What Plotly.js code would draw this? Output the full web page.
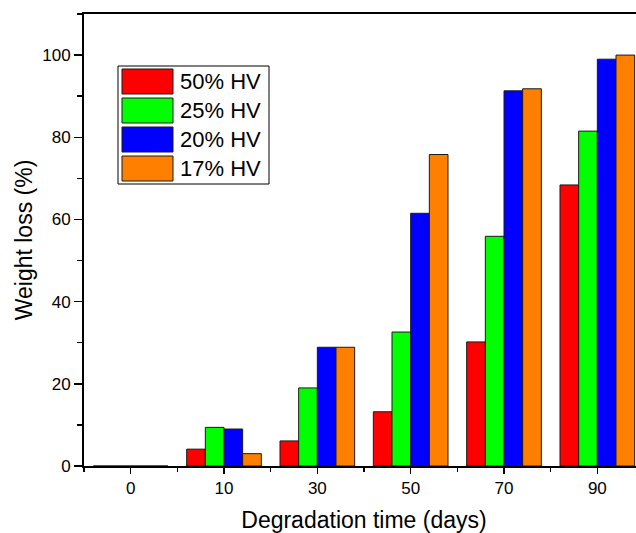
<!DOCTYPE html>
<html><head><meta charset="utf-8">
<script src="https://cdn.plot.ly/plotly-3.0.1.min.js"></script>
<style>html,body{margin:0;padding:0;overflow:hidden;background:#fff}</style>
</head><body><div id="chart"></div>
<script>
const categories = ['0','10','30','50','70','90'];
const seriesNames = ['50% HV','25% HV','20% HV','17% HV'];
const hv50 = [0, 4.1, 6.1, 13.2, 30.2, 68.4];
const hv25 = [0, 9.4, 19.0, 32.6, 55.9, 81.5];
const hv20 = [0, 9.0, 28.9, 61.5, 91.3, 99.0];
const hv17 = [0, 3.0, 28.9, 75.8, 91.8, 100.0];
const seriesValues = [hv50, hv25, hv20, hv17];
const colors = ['#ff0000','#00ff00','#0000ff','#ff8000'];
const xTickVals = [0,1,2,3,4,5];
const minorTickVals = [-0.5,0.5,1.5,2.5,3.5,4.5,5.5];

const FONT = 'Liberation Sans, Arial, sans-serif';
const W = 650, H = 533;
const M = {l:84, r:6, t:14, b:67};
const PW = W - M.l - M.r, PH = H - M.t - M.b;
const px = x => (x - M.l) / PW;          // page px -> paper x
const py = y => 1 - (y - M.t) / PH;      // page px -> paper y

const traces = seriesValues.map((vals, i) => ({
  type: 'bar',
  name: seriesNames[i],
  x: xTickVals,
  y: vals,
  marker: {color: colors[i], line: {color: '#1a1a1a', width: 1}},
  showlegend: false
}));

// custom legend (large swatches like the original)
const shapes = [{
  type: 'rect', xref: 'paper', yref: 'paper',
  x0: px(118), x1: px(269), y0: py(66), y1: py(184),
  line: {color: '#000', width: 1}, fillcolor: '#fff', layer: 'above'
}];
const annotations = [];
const rowTop = [69, 98, 127, 156];
seriesNames.forEach((n, i) => {
  shapes.push({
    type: 'rect', xref: 'paper', yref: 'paper',
    x0: px(122), x1: px(173), y0: py(rowTop[i]), y1: py(rowTop[i] + 25),
    line: {color: '#1a1a1a', width: 1}, fillcolor: colors[i], layer: 'above'
  });
  annotations.push({
    xref: 'paper', yref: 'paper', x: px(178), y: py(rowTop[i] + 12.5),
    xanchor: 'left', yanchor: 'middle', showarrow: false,
    text: n, font: {family: FONT, size: 22, color: '#000'}
  });
});

const layout = {
  width: W, height: H, margin: M,
  paper_bgcolor: '#fff', plot_bgcolor: '#fff',
  barmode: 'group', bargap: 0.2, bargroupgap: 0,
  font: {family: FONT, color: '#000'},
  showlegend: false,
  xaxis: {
    range: [-0.5, 5.5], tickmode: 'array', tickvals: xTickVals, ticktext: categories,
    ticks: 'outside', ticklen: 6, tickwidth: 1.5, tickcolor: '#000',
    minor: {tickmode: 'array', tickvals: minorTickVals, ticks: 'outside', ticklen: 4, tickwidth: 1.5, tickcolor: '#000'},
    showline: true, linecolor: '#000', linewidth: 2, mirror: true,
    showgrid: false, zeroline: false,
    tickfont: {family: FONT, size: 17, color: '#000'},
    title: {text: 'Degradation time (days)', font: {family: FONT, size: 23, color: '#000'}, standoff: 15}
  },
  yaxis: {
    range: [0, 110], tickmode: 'linear', tick0: 0, dtick: 20,
    ticks: 'outside', ticklen: 8, tickwidth: 1.5, tickcolor: '#000',
    minor: {tickmode: 'linear', tick0: 0, dtick: 10, ticks: 'outside', ticklen: 5, tickwidth: 1.5, tickcolor: '#000'},
    showline: true, linecolor: '#000', linewidth: 2, mirror: true,
    showgrid: false, zeroline: false,
    tickfont: {family: FONT, size: 17, color: '#000'},
    title: {text: 'Weight loss (%)', font: {family: FONT, size: 23, color: '#000'}, standoff: 3}
  },
  shapes: shapes,
  annotations: annotations
};

Plotly.newPlot('chart', traces, layout, {displayModeBar: false, staticPlot: true});
</script>
</body></html>
